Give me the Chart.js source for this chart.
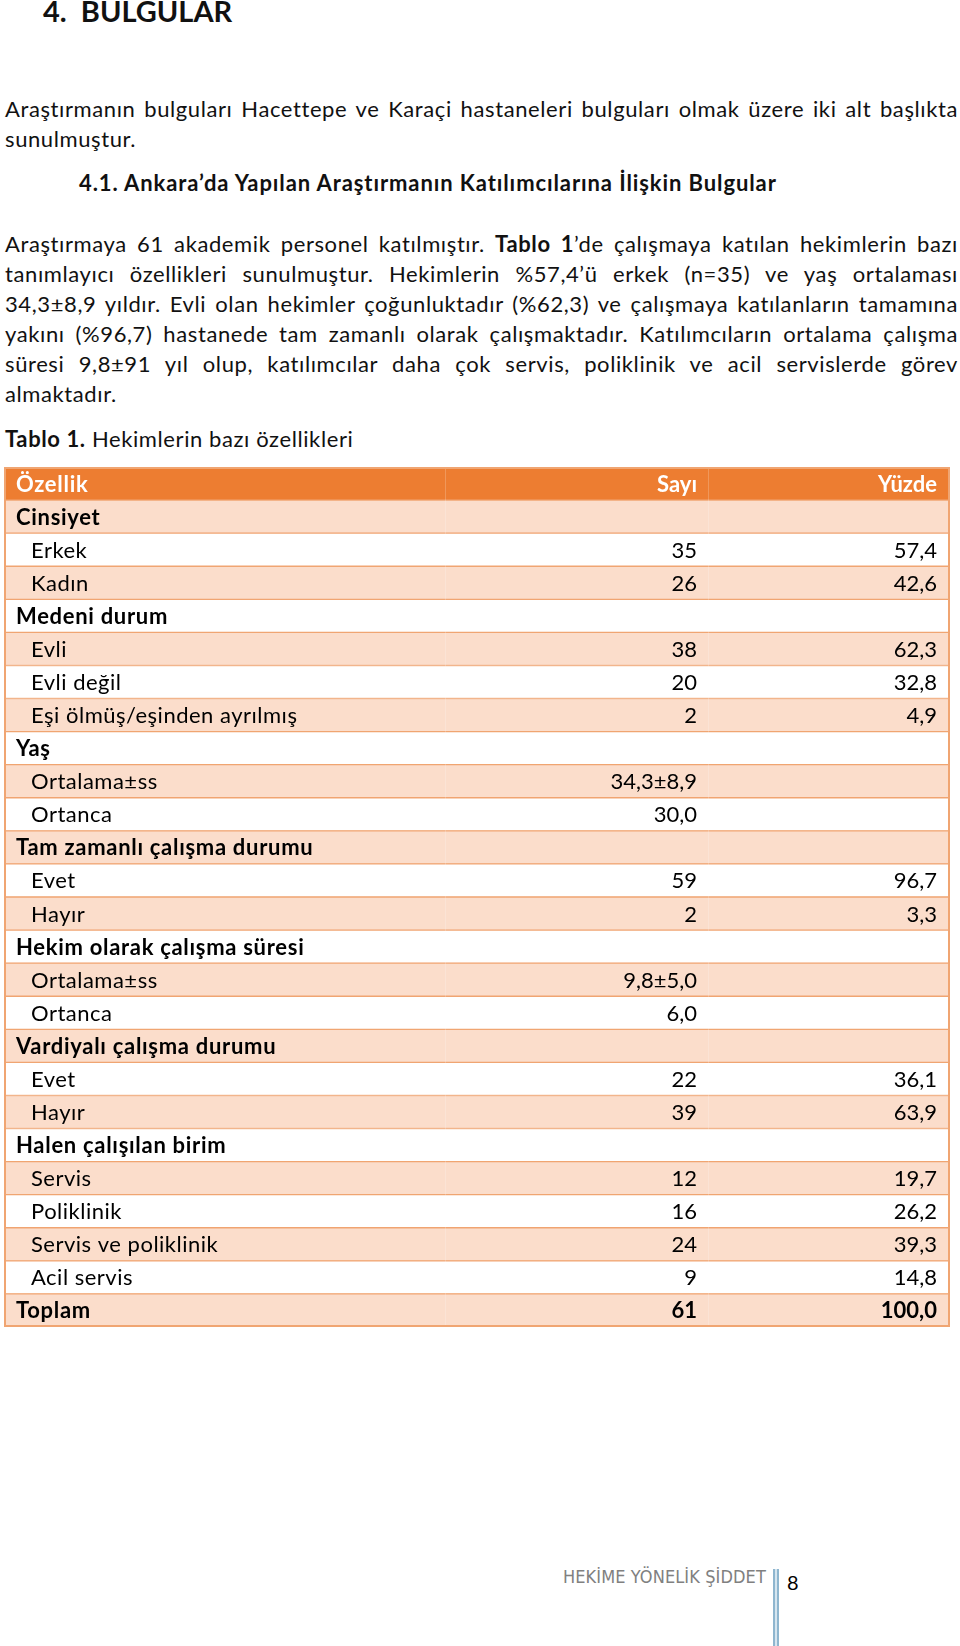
<!DOCTYPE html>
<html lang="tr">
<head>
<meta charset="utf-8">
<title>4. BULGULAR</title>
<script src="https://cdn.jsdelivr.net/npm/chart.js@4.4.1/dist/chart.umd.min.js"></script>
<style>
  html, body { margin: 0; padding: 0; background: #fff; }
  body { width: 960px; height: 1646px; position: relative; overflow: hidden;
         font-family: Lato, "Open Sans", sans-serif; color: #111; }
  .ln { position: absolute; left: 5px; width: 953px; font-size: 22px; line-height: 30px;
        letter-spacing: 0.6px; white-space: nowrap; }
  .j { text-align: justify; text-align-last: justify; white-space: normal; }
  .hd { letter-spacing: 0.9px; }
  h1 { position: absolute; left: 43px; top: -7px; margin: 0; font-size: 29px; line-height: 36px; font-weight: 700; }
  b { font-weight: 700; }
  #tbl { position: absolute; left: 0; top: 464px; width: 960px; height: 866px; }
  #foot { position: absolute; left: 563px; top: 1566px; font-family: "Liberation Sans Narrow", "DejaVu Sans Condensed", sans-serif;
          font-size: 18px; color: #808080; letter-spacing: 0.1px; }
  #bar { position: absolute; left: 773px; top: 1569px; width: 2px; height: 77px;
         border-left: 2px solid #8fb6cf; border-right: 2px solid #8fb6cf; background: #d6e6f0; }
  #pg { position: absolute; left: 787px; top: 1569px; font-size: 20px; line-height: 26px; color: #000; }
</style>
</head>
<body>
<h1>4.&nbsp; BULGULAR</h1>

<div class="ln j" style="top:94px">Araştırmanın bulguları Hacettepe ve Karaçi hastaneleri bulguları olmak üzere iki alt başlıkta</div>
<div class="ln" style="top:124px">sunulmuştur.</div>

<div class="ln hd" style="top:168px; left:79px"><b>4.1. Ankara’da Yapılan Araştırmanın Katılımcılarına İlişkin Bulgular</b></div>

<div class="ln j" style="top:229px">Araştırmaya 61 akademik personel katılmıştır. <b>Tablo 1</b>’de çalışmaya katılan hekimlerin bazı</div>
<div class="ln j" style="top:259px">tanımlayıcı özellikleri sunulmuştur. Hekimlerin %57,4’ü erkek (n=35) ve yaş ortalaması</div>
<div class="ln j" style="top:289px">34,3±8,9 yıldır. Evli olan hekimler çoğunluktadır (%62,3) ve çalışmaya katılanların tamamına</div>
<div class="ln j" style="top:319px">yakını (%96,7) hastanede tam zamanlı olarak çalışmaktadır. Katılımcıların ortalama çalışma</div>
<div class="ln j" style="top:349px">süresi 9,8±91 yıl olup, katılımcılar daha çok servis, poliklinik ve acil servislerde görev</div>
<div class="ln" style="top:379px">almaktadır.</div>

<div class="ln" style="top:424px"><b>Tablo 1.</b> Hekimlerin bazı özellikleri</div>

<div id="tbl"><canvas id="tableChart"></canvas></div>

<div id="foot">HEKİME YÖNELİK ŞİDDET</div>
<div id="bar"></div>
<div id="pg">8</div>

<script>
// table rows, top to bottom (first row is the header)
const rowLabels = ['Özellik', 'Cinsiyet', 'Erkek', 'Kadın', 'Medeni durum', 'Evli', 'Evli değil',
  'Eşi ölmüş/eşinden ayrılmış', 'Yaş', 'Ortalama±ss', 'Ortanca', 'Tam zamanlı çalışma durumu',
  'Evet', 'Hayır', 'Hekim olarak çalışma süresi', 'Ortalama±ss', 'Ortanca', 'Vardiyalı çalışma durumu',
  'Evet', 'Hayır', 'Halen çalışılan birim', 'Servis', 'Poliklinik', 'Servis ve poliklinik', 'Acil servis', 'Toplam']
const counts = ['Sayı', '', '35', '26', '', '38', '20', '2', '', '34,3±8,9', '30,0', '',
  '59', '2', '', '9,8±5,0', '6,0', '', '22', '39', '', '12', '16', '24', '9', '61']
const percents = ['Yüzde', '', '57,4', '42,6', '', '62,3', '32,8', '4,9', '', '', '', '',
  '96,7', '3,3', '', '', '', '', '36,1', '63,9', '', '19,7', '26,2', '39,3', '14,8', '100,0']
// h = header, g = group / total (bold), i = item (indented)
const rowKinds = ['h', 'g', 'i', 'i', 'g', 'i', 'i', 'i', 'g', 'i', 'i', 'g', 'i', 'i', 'g', 'i', 'i', 'g',
  'i', 'i', 'g', 'i', 'i', 'i', 'i', 'g']

const orange = '#ED7D31'
const peach = '#FBDDCB'
const lineCol = '#F0A572'
const fontFam = 'Lato, "Open Sans", sans-serif'

const rowFill = rowKinds.map((k, i) => k === 'h' ? orange : (i % 2 === 1 ? peach : '#ffffff'))

const cellText = {
  id: 'cellText',
  afterDatasetsDraw(chart) {
    const ctx = chart.ctx
    const yScale = chart.scales.y
    const area = chart.chartArea
    const colSayi = 697, colYuzde = 937
    ctx.save()
    // faint column dividers
    ctx.strokeStyle = 'rgba(255,255,255,0.2)'
    ctx.lineWidth = 1
    ;[445.5, 708.5].forEach(x => {
      ctx.beginPath(); ctx.moveTo(x, area.top + 2); ctx.lineTo(x, area.bottom - 2); ctx.stroke()
    })
    // outer frame
    ctx.strokeStyle = lineCol
    ctx.lineWidth = 2
    ctx.strokeRect(area.left + 1, area.top + 1, area.right - area.left - 2, area.bottom - area.top - 2)

    rowLabels.forEach((label, i) => {
      const y = yScale.getPixelForValue(i) + 8
      const kind = rowKinds[i]
      const bold = kind !== 'i'
      ctx.font = (bold ? '700 ' : '400 ') + '22px ' + fontFam
      ctx.letterSpacing = bold ? '0.7px' : '0.5px'
      ctx.fillStyle = kind === 'h' ? '#ffffff' : '#000000'
      ctx.textBaseline = 'alphabetic'
      ctx.textAlign = 'left'
      ctx.fillText(label, kind === 'i' ? 31 : 16, y)
      ctx.letterSpacing = '0px'
      ctx.textAlign = 'right'
      if (counts[i]) ctx.fillText(counts[i], colSayi, y)
      if (percents[i]) ctx.fillText(percents[i], colYuzde, y)
    })
    ctx.restore()
  }
}

new Chart(document.getElementById('tableChart'), {
  type: 'bar',
  data: {
    labels: rowLabels,
    datasets: [{
      label: 'rows',
      data: rowLabels.map(() => 1),
      backgroundColor: rowFill,
      borderColor: lineCol,
      borderWidth: { top: 1, bottom: 1, left: 0, right: 0 },
      borderSkipped: false,
      categoryPercentage: 1,
      barPercentage: 1
    }]
  },
  options: {
    indexAxis: 'y',
    responsive: true,
    maintainAspectRatio: false,
    animation: false,
    layout: { padding: { left: 4, right: 10, top: 3, bottom: 3 } },
    scales: {
      x: { display: false, min: 0, max: 1 },
      y: { display: false }
    },
    plugins: { legend: { display: false }, tooltip: { enabled: false } }
  },
  plugins: [cellText]
})
</script>
</body>
</html>
